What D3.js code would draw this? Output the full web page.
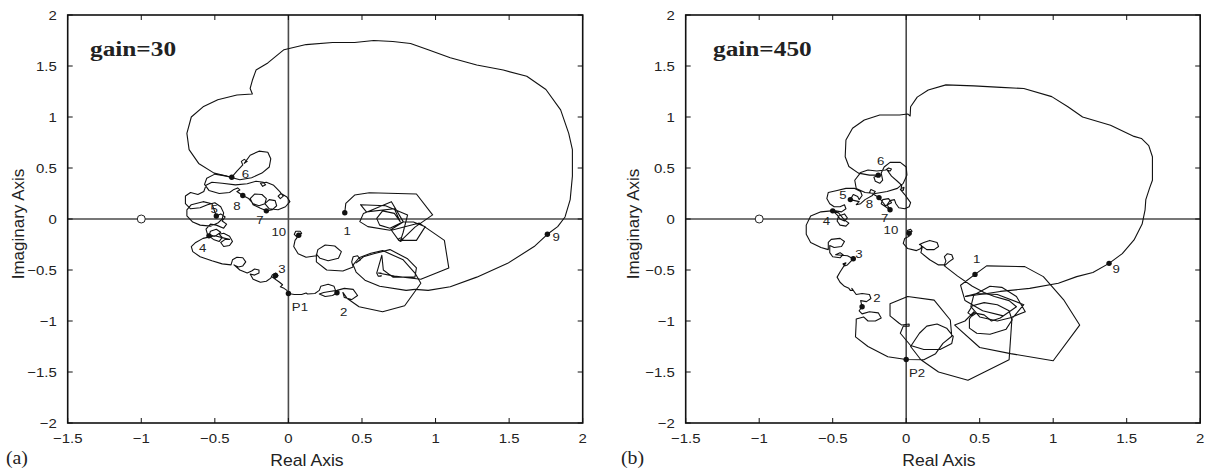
<!DOCTYPE html>
<html lang="en">
<head>
	<meta charset="UTF-8">
	<title>Nyquist plots</title>
	<script src="https://d3js.org/d3.v7.min.js"></script>
	<style>
		body { margin: 0; background: #fff; }
	</style>
</head>
<body>
	<script type="text/javascript">
		var width = 1212;
		var height = 472;

		// axis ticks
		var ticksX = [-1.5, -1, -0.5, 0, 0.5, 1, 1.5, 2];
		var ticksY = [-2, -1.5, -1, -0.5, 0, 0.5, 1, 1.5, 2];

		// ---------- (a) gain=30 ----------
		var outerA = [
			[0.86,-0.69],[0.95,-0.70],[1.10,-0.665],[1.28,-0.57],[1.49,-0.435],[1.67,-0.27],[1.76,-0.15],[1.83,-0.075],
			[1.88,0.02],[1.915,0.19],[1.93,0.42],[1.93,0.68],[1.905,0.84],[1.85,1.07],[1.75,1.27],[1.62,1.40],[1.46,1.46],
			[1.28,1.51],[1.10,1.58],[0.95,1.66],[0.83,1.72],[0.71,1.74],[0.58,1.75],[0.45,1.73],[0.30,1.73],[0.12,1.71],
			[-0.03,1.66],[-0.14,1.53],[-0.22,1.46],[-0.245,1.36],[-0.26,1.28],[-0.245,1.225],[-0.35,1.215],[-0.48,1.17],
			[-0.58,1.10],[-0.66,1.0],[-0.69,0.84],[-0.675,0.68],[-0.61,0.545],[-0.505,0.45],[-0.385,0.41]
		];
		var chainA = [
			[-0.385,0.41],[-0.35,0.47],[-0.31,0.53],[-0.32,0.565],[-0.30,0.585],[-0.28,0.565],[-0.30,0.545],[-0.26,0.625],
			[-0.20,0.665],[-0.14,0.655],[-0.12,0.59],[-0.13,0.51],[-0.18,0.45],[-0.25,0.405],[-0.33,0.385],[-0.42,0.42],
			[-0.50,0.44],[-0.555,0.40],[-0.57,0.34],[-0.54,0.28],[-0.47,0.25],[-0.40,0.26],[-0.37,0.29],[-0.345,0.305],
			[-0.33,0.285],[-0.35,0.27],[-0.31,0.23],[-0.27,0.20],[-0.24,0.15],[-0.20,0.13],[-0.16,0.15],[-0.15,0.20],
			[-0.18,0.24],[-0.23,0.245],[-0.26,0.20],[-0.24,0.14],[-0.19,0.105],[-0.15,0.08],[-0.11,0.09],[-0.08,0.13],
			[-0.09,0.18],[-0.13,0.19],[-0.16,0.15],[-0.13,0.10],[-0.07,0.09],[-0.02,0.12],[0.01,0.17],[-0.01,0.215],
			[-0.05,0.25],[-0.07,0.225],[-0.055,0.20],[-0.035,0.225],[-0.06,0.27],[-0.10,0.33],[-0.15,0.36],[-0.19,0.35],
			[-0.175,0.32],[-0.155,0.335],[-0.17,0.36],[-0.22,0.37],[-0.28,0.345],[-0.36,0.335],[-0.45,0.35],[-0.52,0.36],
			[-0.56,0.33],[-0.575,0.27],[-0.615,0.24],[-0.665,0.26],[-0.70,0.225],[-0.70,0.15],[-0.665,0.10],[-0.60,0.11],
			[-0.55,0.14],[-0.50,0.16],[-0.46,0.12],[-0.44,0.06],[-0.45,0.00],[-0.48,-0.04],[-0.53,-0.07],[-0.60,-0.06],
			[-0.65,-0.03],[-0.69,0.03],[-0.69,0.09],[-0.66,0.14],[-0.58,0.17],[-0.52,0.15],[-0.49,0.03],[-0.46,0.05],
			[-0.43,0.02],[-0.45,-0.02],[-0.42,-0.05],[-0.44,-0.09],[-0.49,-0.06],[-0.53,-0.05],[-0.56,-0.10],[-0.55,-0.15],
			[-0.50,-0.17],[-0.46,-0.13],[-0.49,-0.10],[-0.53,-0.12],[-0.54,-0.165],[-0.51,-0.20],[-0.47,-0.22],[-0.45,-0.18],
			[-0.47,-0.15],[-0.44,-0.14],[-0.40,-0.17],[-0.38,-0.22],[-0.40,-0.26],[-0.44,-0.27],[-0.46,-0.23],[-0.43,-0.20],
			[-0.40,-0.20],[-0.43,-0.19],[-0.50,-0.165],[-0.58,-0.19],[-0.63,-0.23],[-0.66,-0.27],[-0.65,-0.32],[-0.60,-0.37],
			[-0.52,-0.41],[-0.45,-0.44],[-0.39,-0.45],[-0.38,-0.40],[-0.35,-0.375],[-0.31,-0.38],[-0.29,-0.42],[-0.31,-0.46],
			[-0.34,-0.47],[-0.37,-0.45],[-0.33,-0.50],[-0.28,-0.53],[-0.25,-0.51],[-0.23,-0.49],[-0.20,-0.50],[-0.20,-0.53],
			[-0.23,-0.55],[-0.26,-0.54],[-0.24,-0.59],[-0.19,-0.62],[-0.15,-0.61],[-0.12,-0.58],[-0.11,-0.55],[-0.085,-0.53],
			[-0.07,-0.555],[-0.088,-0.58],[-0.11,-0.57],[-0.06,-0.62],[-0.04,-0.645],[-0.055,-0.665],[-0.03,-0.68],[-0.01,-0.70],
			[0,-0.73],[0.04,-0.74],[0.09,-0.74],[0.12,-0.725],[0.13,-0.735],[0.18,-0.73],[0.21,-0.70],[0.22,-0.66],
			[0.27,-0.64],[0.31,-0.66],[0.32,-0.70],[0.33,-0.723],[0.30,-0.75],[0.25,-0.76],[0.21,-0.735],[0.24,-0.72],
			[0.28,-0.71],[0.33,-0.70],[0.38,-0.68],[0.44,-0.69],[0.47,-0.75],[0.43,-0.79],[0.38,-0.77],[0.37,-0.72],
			[0.40,-0.78],[0.48,-0.86],[0.64,-0.91],[0.79,-0.85],[0.90,-0.63],[0.86,-0.53],[0.78,-0.40],[0.64,-0.31],
			[0.56,-0.335],[0.48,-0.38],[0.44,-0.45],[0.46,-0.52],[0.52,-0.60],[0.62,-0.66],[0.80,-0.70],[0.86,-0.69]
		];
		var branchA = [
			[0.07,-0.16],[0.09,-0.14],[0.08,-0.12],[0.05,-0.12],[0.04,-0.15],[0.06,-0.18],[0.045,-0.21],[0.036,-0.27],
			[0.066,-0.34],[0.12,-0.375],[0.19,-0.36],[0.20,-0.30],[0.25,-0.255],[0.315,-0.265],[0.36,-0.32],[0.34,-0.385],
			[0.27,-0.41],[0.215,-0.385],[0.19,-0.345],[0.19,-0.42],[0.26,-0.50],[0.37,-0.51],[0.44,-0.47],[0.43,-0.42],
			[0.44,-0.37],[0.47,-0.36],[0.49,-0.40],[0.46,-0.43],[0.51,-0.37],[0.58,-0.34],[0.69,-0.30],[0.81,-0.39],
			[0.87,-0.48],[0.86,-0.57],[0.71,-0.57],[0.645,-0.50],[0.635,-0.355],[0.60,-0.53],[0.61,-0.56],[0.63,-0.56],
			[0.63,-0.53],[0.61,-0.53],[0.72,-0.56],[0.90,-0.59],[1.09,-0.48],[1.06,-0.21],[0.89,-0.04],[0.70,-0.11],
			[0.75,-0.21],[0.87,-0.21],[0.93,-0.075],[0.85,-0.03],[0.78,-0.03],[0.69,-0.11],[0.54,-0.075],[0.485,-0.026],
			[0.51,0.055],[0.70,0.17],[0.78,-0.026],[0.69,-0.09],[0.62,-0.06],[0.60,0.006],[0.64,0.08],[0.72,0.055],
			[0.76,-0.026],[0.72,0.10],[0.53,0.07],[0.49,0.14],[0.66,0.13],[0.81,0.04],[0.78,-0.13],[0.76,-0.22],
			[0.745,-0.20],[0.76,-0.185],[0.78,-0.205],[0.76,-0.22],[0.86,-0.08],[0.98,0.04],[0.87,0.245],[0.55,0.258],
			[0.45,0.235],[0.39,0.153],[0.383,0.062]
		];
		var dotsA = [[0.383,0.062],[0.33,-0.723],[-0.088,-0.553],[-0.54,-0.165],[-0.49,0.03],[-0.385,0.41],
			[-0.15,0.08],[-0.31,0.23],[1.76,-0.15],[0.07,-0.16],[0,-0.73]];
		var namesA = ["1","2","3","4","5","6","7","8","9","10","P1"];
		var labelPosA = [[0.40,-0.115],[0.376,-0.916],[-0.044,-0.494],[-0.583,-0.288],[-0.505,0.095],[-0.293,0.442],
			[-0.194,-0.01],[-0.35,0.128],[1.82,-0.18],[-0.065,-0.131],[0.078,-0.86]];

		// ---------- (b) gain=450 ----------
		var outerB = [
			[0.40,-0.76],[0.55,-0.73],[0.64,-0.71],[0.84,-0.68],[1.035,-0.63],[1.16,-0.565],[1.27,-0.525],[1.38,-0.435],
			[1.47,-0.34],[1.55,-0.205],[1.605,-0.05],[1.625,0.09],[1.63,0.19],[1.655,0.30],[1.675,0.38],[1.675,0.61],
			[1.65,0.72],[1.60,0.79],[1.55,0.81],[1.39,0.92],[1.20,1.00],[1.10,1.10],[0.99,1.20],[0.80,1.28],[0.645,1.29],
			[0.46,1.305],[0.27,1.315],[0.15,1.265],[0.075,1.195],[0.03,1.10],[0.027,1.01],[0.01,1.03],[-0.045,1.02],
			[-0.18,1.02],[-0.285,0.97],[-0.365,0.89],[-0.41,0.775],[-0.415,0.61],[-0.39,0.515],[-0.325,0.45],[-0.25,0.43],
			[-0.19,0.43]
		];
		var chainB = [
			[-0.19,0.43],[-0.22,0.41],[-0.21,0.37],[-0.18,0.35],[-0.16,0.38],[-0.17,0.45],[-0.15,0.51],[-0.11,0.555],
			[-0.04,0.555],[0.00,0.51],[0.005,0.43],[-0.02,0.35],[-0.06,0.30],[-0.13,0.27],[-0.21,0.25],[-0.28,0.26],
			[-0.34,0.30],[-0.35,0.38],[-0.31,0.455],[-0.26,0.48],[-0.20,0.47],[-0.14,0.48],[-0.12,0.50],[-0.10,0.49],
			[-0.11,0.47],[-0.13,0.48],[-0.10,0.42],[-0.06,0.37],[-0.03,0.33],[-0.035,0.30],[-0.015,0.31],[-0.02,0.28],
			[-0.04,0.29],[-0.01,0.24],[0.01,0.20],[0.03,0.16],[0.02,0.12],[-0.01,0.10],[-0.05,0.11],[-0.07,0.15],
			[-0.08,0.19],[-0.11,0.18],[-0.13,0.14],[-0.11,0.09],[-0.14,0.12],[-0.17,0.15],[-0.16,0.19],[-0.12,0.20],
			[-0.10,0.16],[-0.14,0.13],[-0.185,0.21],[-0.22,0.24],[-0.25,0.26],[-0.24,0.29],[-0.21,0.27],[-0.23,0.23],
			[-0.28,0.19],[-0.31,0.15],[-0.34,0.14],[-0.32,0.17],[-0.35,0.18],[-0.38,0.19],[-0.36,0.24],[-0.33,0.22],
			[-0.32,0.19],[-0.30,0.23],[-0.31,0.27],[-0.35,0.30],[-0.41,0.30],[-0.47,0.28],[-0.53,0.26],[-0.54,0.20],
			[-0.52,0.15],[-0.49,0.12],[-0.45,0.12],[-0.42,0.14],[-0.41,0.10],[-0.44,0.07],[-0.48,0.08],[-0.50,0.08],
			[-0.47,0.04],[-0.45,0.00],[-0.42,-0.02],[-0.40,0.01],[-0.42,0.05],[-0.46,0.03],[-0.47,-0.02],[-0.45,-0.06],
			[-0.41,-0.07],[-0.39,-0.04],[-0.42,-0.01],[-0.46,0.06],[-0.51,0.08],[-0.58,0.07],[-0.65,0.03],[-0.68,-0.06],
			[-0.68,-0.15],[-0.65,-0.23],[-0.58,-0.28],[-0.53,-0.30],[-0.53,-0.23],[-0.51,-0.20],[-0.45,-0.19],[-0.42,-0.22],
			[-0.44,-0.27],[-0.49,-0.28],[-0.52,-0.26],[-0.52,-0.33],[-0.50,-0.37],[-0.45,-0.38],[-0.43,-0.35],[-0.45,-0.33],
			[-0.48,-0.35],[-0.40,-0.36],[-0.36,-0.39],[-0.38,-0.42],[-0.40,-0.45],[-0.42,-0.46],[-0.43,-0.44],[-0.41,-0.43],
			[-0.45,-0.52],[-0.47,-0.57],[-0.45,-0.62],[-0.42,-0.66],[-0.39,-0.68],[-0.38,-0.70],[-0.36,-0.70],[-0.37,-0.68],
			[-0.34,-0.74],[-0.30,-0.73],[-0.25,-0.74],[-0.24,-0.78],[-0.27,-0.81],[-0.31,-0.80],[-0.30,-0.86],[-0.32,-0.90],
			[-0.30,-0.93],[-0.25,-0.91],[-0.19,-0.92],[-0.17,-0.97],[-0.21,-1.00],[-0.26,-1.00],[-0.29,-0.96],[-0.34,-0.98],
			[-0.34,-1.01],[-0.345,-1.155],[-0.26,-1.25],[-0.125,-1.35],[0,-1.377],[0.12,-1.38],[0.20,-1.32],[0.25,-1.22],
			[0.31,-1.15],[0.30,-0.99],[0.19,-0.795],[0.01,-0.76],[-0.11,-0.83],[-0.11,-0.95],[-0.05,-1.02],[-0.03,-1.04],
			[0.02,-1.03],[0.02,-1.05],[-0.02,-1.05],[-0.04,-1.12],[0.03,-1.24],[0.12,-1.28],[0.23,-1.28],[0.31,-1.22],
			[0.32,-1.15],[0.275,-1.07],[0.21,-1.03],[0.14,-1.05],[0.09,-1.12],[0.03,-1.25],[0.10,-1.38],[0.22,-1.50],
			[0.42,-1.58],[0.70,-1.38],[0.72,-0.96],[0.81,-0.91],[0.75,-0.76],[0.65,-0.67],[0.57,-0.66],[0.46,-0.745],
			[0.44,-0.86],[0.50,-0.96],[0.62,-1.00],[0.73,-0.96],[0.80,-0.84],[0.62,-0.74],[0.48,-0.73],[0.40,-0.76]
		];
		var branchB = [
			[0.02,-0.14],[0.04,-0.12],[0.03,-0.10],[0.01,-0.11],[0.005,-0.14],[0.02,-0.17],[-0.01,-0.19],[-0.02,-0.24],
			[0.01,-0.29],[0.07,-0.31],[0.10,-0.29],[0.105,-0.26],[0.09,-0.25],[0.12,-0.23],[0.16,-0.21],[0.21,-0.23],
			[0.22,-0.27],[0.19,-0.30],[0.14,-0.30],[0.11,-0.27],[0.10,-0.33],[0.16,-0.40],[0.22,-0.45],[0.26,-0.45],
			[0.27,-0.41],[0.26,-0.37],[0.28,-0.34],[0.31,-0.35],[0.32,-0.39],[0.29,-0.42],[0.26,-0.46],[0.35,-0.56],
			[0.45,-0.66],[0.53,-0.72],[0.60,-0.76],[0.70,-0.80],[0.75,-0.86],[0.64,-0.97],[0.58,-1.00],[0.53,-0.94],
			[0.46,-0.92],[0.43,-0.98],[0.43,-1.07],[0.48,-1.12],[0.57,-1.13],[0.68,-1.08],[0.72,-0.99],[0.70,-0.90],
			[0.62,-0.84],[0.53,-0.82],[0.45,-0.85],[0.42,-0.92],[0.45,-0.95],[0.47,-0.93],[0.46,-0.91],[0.40,-1.00],
			[0.33,-1.04],[0.50,-1.26],[0.71,-1.32],[1.00,-1.39],[1.18,-1.04],[1.07,-0.79],[0.933,-0.565],[0.807,-0.467],
			[0.547,-0.46],[0.468,-0.543],[0.37,-0.65],[0.40,-0.80],[0.52,-0.90],[0.66,-0.95]
		];
		var dotsB = [[0.468,-0.543],[-0.30,-0.86],[-0.36,-0.39],[-0.50,0.08],[-0.38,0.19],[-0.19,0.43],
			[-0.11,0.09],[-0.185,0.21],[1.38,-0.435],[0.02,-0.14],[0,-1.377]];
		var namesB = ["1","2","3","4","5","6","7","8","9","10","P2"];
		var labelPosB = [[0.48,-0.392],[-0.20,-0.772],[-0.321,-0.343],[-0.542,-0.02],[-0.43,0.235],[-0.173,0.569],
			[-0.146,0.007],[-0.25,0.147],[1.429,-0.494],[-0.104,-0.108],[0.074,-1.514]];

		var svg = d3.select("body")
			.append("svg")
			.attr("width", width)
			.attr("height", height);

		var panels = [
			{ left: 67.7, right: 582.7, tag: "(a)", tagX: 6, gain: "gain=30", gainX: 90, titleX: 307, ylabX: 24,
			  curves: [outerA, chainA, branchA], dots: dotsA, names: namesA, labels: labelPosA },
			{ left: 685.7, right: 1200.2, tag: "(b)", tagX: 621, gain: "gain=450", gainX: 713, titleX: 939, ylabX: 639,
			  curves: [outerB, chainB, branchB], dots: dotsB, names: namesB, labels: labelPosB }
		];
		var plotTop = 15, plotBottom = 423;
		var sans = "'Liberation Sans', Arial, sans-serif";
		var serif = "'Liberation Serif', 'Times New Roman', serif";

		function fmt(d) {
			return d < 0 ? "\u2212" + Math.abs(d) : String(d);
		}

		// text stretched a bit horizontally, like the scanned figure
		function stext(g, x, y, str, size, family, anchor, sx, weight) {
			return g.append("text")
				.attr("transform", "translate(" + x + "," + y + ") scale(" + sx + ",1)")
				.attr("text-anchor", anchor)
				.attr("font-family", family)
				.attr("font-size", size)
				.attr("font-weight", weight || "normal")
				.attr("fill", "#222")
				.text(str);
		}

		panels.forEach(function(p) {
			var x = d3.scaleLinear().domain([-1.5, 2]).range([p.left, p.right]);
			var y = d3.scaleLinear().domain([-2, 2]).range([plotBottom, plotTop]);
			var g = svg.append("g");

			// zero axes
			g.append("line").attr("x1", x(-1.5)).attr("x2", x(2)).attr("y1", y(0)).attr("y2", y(0))
				.attr("stroke", "#4a4a4a").attr("stroke-width", 1.6);
			g.append("line").attr("x1", x(0)).attr("x2", x(0)).attr("y1", y(-2)).attr("y2", y(2))
				.attr("stroke", "#4a4a4a").attr("stroke-width", 1.6);

			// curve
			var line = d3.line()
				.x(function(d) { return x(d[0]); })
				.y(function(d) { return y(d[1]); });
			g.selectAll("path.curve")
				.data(p.curves)
				.enter()
				.append("path")
				.attr("class", "curve")
				.attr("d", line)
				.attr("fill", "none")
				.attr("stroke", "#111")
				.attr("stroke-width", 1.1)
				.attr("stroke-linejoin", "round");

			// marked points
			g.selectAll("circle.dot")
				.data(p.dots)
				.enter()
				.append("circle")
				.attr("class", "dot")
				.attr("cx", function(d) { return x(d[0]); })
				.attr("cy", function(d) { return y(d[1]); })
				.attr("r", 2.7)
				.attr("fill", "#111");

			p.labels.forEach(function(d, i) {
				stext(g, x(d[0]), y(d[1]) + 4, p.names[i], 11.5, sans, "middle", 1.15);
			});

			// -1 point
			g.append("circle").attr("cx", x(-1)).attr("cy", y(0)).attr("r", 4)
				.attr("fill", "#fff").attr("stroke", "#222").attr("stroke-width", 1);

			// frame
			g.append("rect").attr("x", x(-1.5)).attr("y", y(2))
				.attr("width", x(2) - x(-1.5)).attr("height", y(-2) - y(2))
				.attr("fill", "none").attr("stroke", "#111").attr("stroke-width", 1.6);

			// ticks, inside on all four sides
			ticksX.forEach(function(t) {
				g.append("line").attr("x1", x(t)).attr("x2", x(t)).attr("y1", plotBottom).attr("y2", plotBottom - 5)
					.attr("stroke", "#111").attr("stroke-width", 1);
				g.append("line").attr("x1", x(t)).attr("x2", x(t)).attr("y1", plotTop).attr("y2", plotTop + 5)
					.attr("stroke", "#111").attr("stroke-width", 1);
				stext(g, x(t), 443, fmt(t), 13, sans, "middle", 1.15);
			});
			ticksY.forEach(function(t) {
				g.append("line").attr("x1", p.left).attr("x2", p.left + 5).attr("y1", y(t)).attr("y2", y(t))
					.attr("stroke", "#111").attr("stroke-width", 1);
				g.append("line").attr("x1", p.right).attr("x2", p.right - 5).attr("y1", y(t)).attr("y2", y(t))
					.attr("stroke", "#111").attr("stroke-width", 1);
				stext(g, p.left - 11, y(t) + 4.5, fmt(t), 13, sans, "end", 1.15);
			});

			// titles
			stext(g, p.titleX, 466, "Real Axis", 16, sans, "middle", 1.1);
			g.append("text")
				.attr("transform", "translate(" + p.ylabX + "," + 224 + ") rotate(-90)")
				.attr("text-anchor", "middle")
				.attr("font-family", sans)
				.attr("font-size", 17)
				.attr("fill", "#222")
				.text("Imaginary Axis");
			stext(g, p.gainX, 56, p.gain, 22, serif, "start", 1.15, "bold");
			stext(g, p.tagX, 464, p.tag, 18, serif, "start", 1.1);
		});
	</script>
</body>
</html>
